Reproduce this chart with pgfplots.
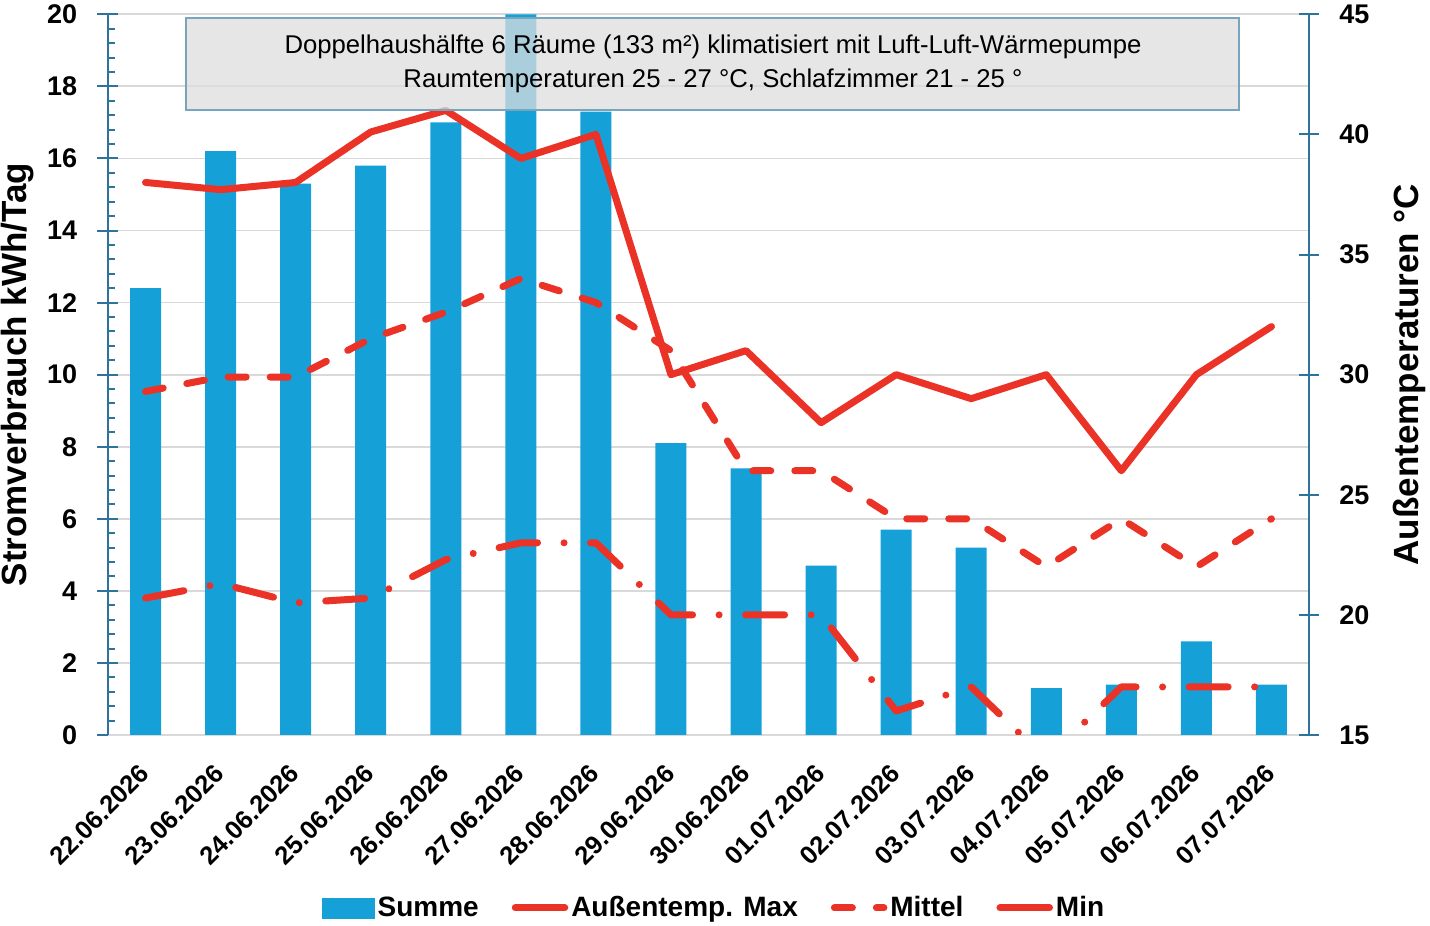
\documentclass[border=0pt]{standalone}
\usepackage{pgfplots}
\pgfplotsset{compat=1.18}
\usepackage{fontspec}
\setmainfont{Liberation Sans}
\definecolor{barblue}{RGB}{22,160,216}
\definecolor{tred}{RGB}{235,50,38}
\definecolor{axblue}{RGB}{46,115,155}
\definecolor{gridgray}{RGB}{217,217,217}
\definecolor{boxborder}{RGB}{120,165,190}
\definecolor{boxfill}{RGB}{222,222,222}
\begin{document}
\begin{tikzpicture}
\useasboundingbox (0,0) rectangle (715pt,463pt);
\begin{axis}[
  at={(54pt,95.5pt)}, anchor=south west,
  scale only axis, width=600.5pt, height=360.35pt,
  xmin=-0.5, xmax=15.5, ymin=0, ymax=20,
  axis y line*=left, axis x line*=bottom,
  ytick={0,2,...,20}, minor y tick num=4,
  ymajorgrids, grid style={gridgray, line width=0.9pt},
  xtick={0,...,15},
  xticklabels={22.06.2026,23.06.2026,24.06.2026,25.06.2026,26.06.2026,27.06.2026,28.06.2026,29.06.2026,30.06.2026,01.07.2026,02.07.2026,03.07.2026,04.07.2026,05.07.2026,06.07.2026,07.07.2026},
  x axis line style={draw=gridgray, line width=0.9pt},
  y axis line style={draw=axblue, line width=1pt},
  xtick style={draw=none},
  ytick style={draw=axblue, line width=1pt},
  tick align=center, major tick length=10.5pt, minor tick length=3.5pt,
  minor tick style={xshift=1.75pt},
  /pgf/number format/assume math mode=true,
  yticklabel style={font=\fontsize{13.5}{16}\selectfont\bfseries, anchor=east, inner sep=0pt, xshift=-10pt},
  xticklabel style={font=\fontsize{12.8}{15}\selectfont\bfseries, inner sep=0pt, xshift=-3.75pt, yshift=-8.5pt, rotate=45, anchor=north east},
  ylabel={Stromverbrauch kWh/Tag},
  ylabel style={font=\fontsize{17.5}{20}\selectfont\bfseries, at={(axis description cs:-0.075,0.5)}, anchor=center, rotate=0},
]
\addplot[ybar, bar width=15.5pt, fill=barblue, draw=none] coordinates {
  (0,12.4) (1,16.2) (2,15.3) (3,15.8) (4,17.0) (5,20.0) (6,17.3) (7,8.1)
  (8,7.4) (9,4.7) (10,5.7) (11,5.2) (12,1.3) (13,1.4) (14,2.6) (15,1.4)};
\end{axis}
\begin{axis}[
  at={(54pt,95.5pt)}, anchor=south west,
  scale only axis, width=600.5pt, height=360.35pt,
  xmin=-0.5, xmax=15.5, ymin=15, ymax=45,
  axis y line*=right, hide x axis,
  ytick={15,20,...,45},
  y axis line style={draw=axblue, line width=1pt},
  ytick style={draw=axblue, line width=1pt},
  tick align=center, major tick length=10pt,
  /pgf/number format/assume math mode=true,
  yticklabel style={font=\fontsize{13.5}{16}\selectfont\bfseries, anchor=west, inner sep=0pt, xshift=10pt},
  ylabel={Außentemperaturen °C},
  ylabel style={font=\fontsize{17.5}{20}\selectfont\bfseries, at={(axis description cs:1.084,0.5)}, anchor=center, rotate=0},
  legend columns=4,
  legend image code/.code={\draw[#1] (1.75pt,0pt) -- (26.5pt,0pt);},
  legend style={at={(0.505,-0.24)}, anchor=center, draw=none, fill=none,
    font=\fontsize{14}{16}\selectfont\bfseries,
    nodes={inner sep=1.5pt},
    /tikz/every even column/.append style={column sep=15pt}},
]
\addlegendimage{legend image code/.code={\fill[barblue] (0pt,-5pt) rectangle (26pt,5pt);}}
\addlegendentry{Summe}
\addplot[tred, line width=3.5pt, line join=round, line cap=round] coordinates {
  (0,38.0) (1,37.7) (2,38.0) (3,40.1) (4,41.0) (5,39.0) (6,40.0) (7,30.0)
  (8,31.0) (9,28.0) (10,30.0) (11,29.0) (12,30.0) (13,26.0) (14,30.0) (15,32.0)};
\addlegendentry{Außentemp. Max}
\addplot[tred, line width=3.5pt, line join=round, line cap=round, dash pattern=on 9pt off 12pt] coordinates {
  (0,29.3) (1,29.9) (2,29.9) (3,31.5) (4,32.6) (5,34.0) (6,33.0) (7,31.0)
  (8,26.0) (9,26.0) (10,24.0) (11,24.0) (12,22.0) (13,24.0) (14,22.0) (15,24.0)};
\addlegendentry{Mittel}
\addplot[tred, line width=3.5pt, line join=round, line cap=round, dash pattern=on 19.5pt off 13.25pt on 0.01pt off 13.25pt,
  legend image code/.code={\draw[tred, solid, line width=3.5pt, line cap=round] (1.75pt,0pt) -- (26.5pt,0pt);}] coordinates {
  (0,20.7) (1,21.3) (2,20.5) (3,20.7) (4,22.3) (5,23.0) (6,23.0) (7,20.0)
  (8,20.0) (9,20.0) (10,16.0) (11,17.0) (12,14.0) (13,17.0) (14,17.0) (15,17.0)};
\addlegendentry{Min}
\end{axis}
\fill[boxfill, opacity=0.75] (93pt,408pt) rectangle (619.5pt,454pt);
\draw[boxborder, line width=0.8pt] (93pt,408pt) rectangle (619.5pt,454pt);
\node[font=\fontsize{12.85}{17}\selectfont, align=center, inner sep=0pt] at (356.5pt,431pt)
  {Doppelhaushälfte 6 Räume (133 m²) klimatisiert mit Luft-Luft-Wärmepumpe\\Raumtemperaturen 25 - 27 °C, Schlafzimmer 21 - 25 °};
\end{tikzpicture}
\end{document}
